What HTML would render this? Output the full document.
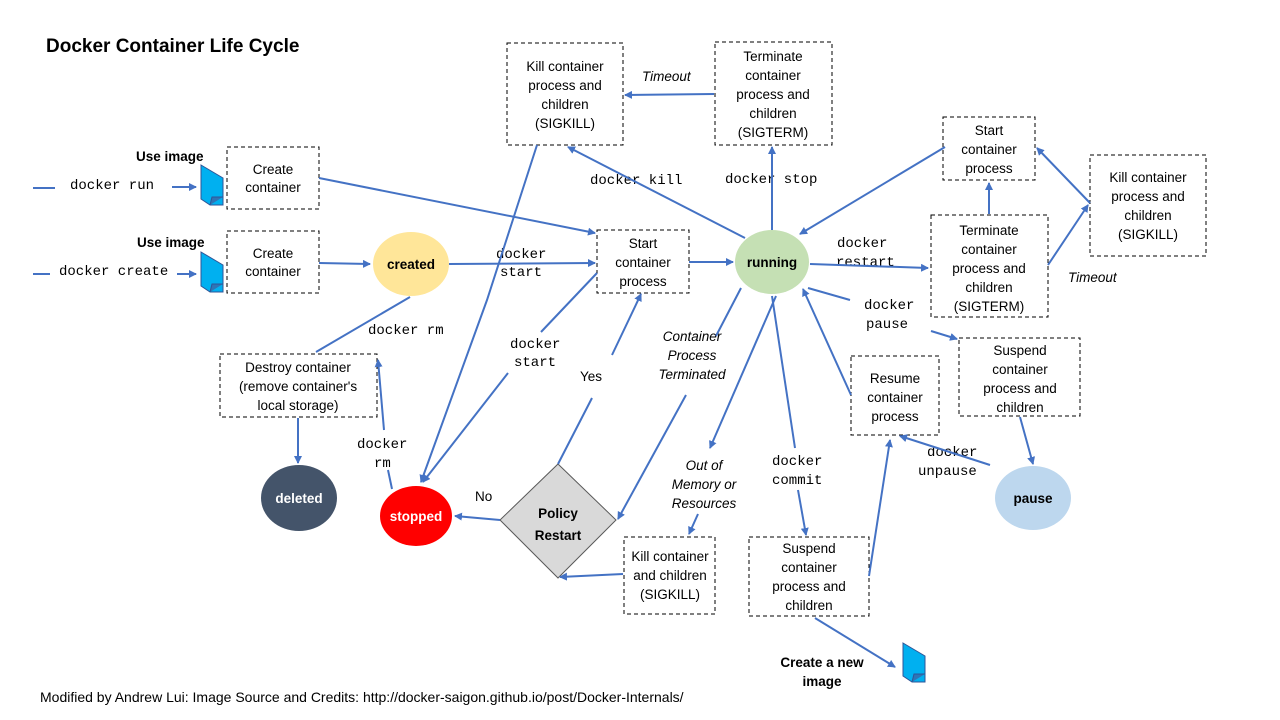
<!DOCTYPE html>
<html><head><meta charset="utf-8"><style>
body{margin:0;background:#fff}
svg{display:block}
text{font-family:"Liberation Sans",sans-serif;font-size:13.5px;fill:#000}
.m{font-family:"Liberation Mono",monospace;font-size:14px}
.i{font-style:italic}
.b{font-weight:bold}
.bx{fill:#fff;stroke:#000;stroke-dasharray:4,3;stroke-width:1}
.ln{stroke:#4472C4;stroke-width:2;fill:none;marker-end:url(#a)}
.nl{stroke:#4472C4;stroke-width:2;fill:none}
.doc{fill:#00B0F0;stroke:#2F5597;stroke-width:1}
</style></head><body>
<svg width="1280" height="720" viewBox="0 0 1280 720">
<defs><marker id="a" markerWidth="8" markerHeight="8" refX="7" refY="4" orient="auto" markerUnits="userSpaceOnUse"><path d="M0,0 L8,4 L0,8 z" fill="#4472C4"/></marker></defs>
<text x="46" y="52" class="b" style="font-size:19px">Docker Container Life Cycle</text>

<rect class="bx" x="227" y="147" width="92" height="62"/>
<text x="273" y="174" text-anchor="middle">Create</text><text x="273" y="192" text-anchor="middle">container</text>
<rect class="bx" x="227" y="231" width="92" height="62"/>
<text x="273" y="258" text-anchor="middle">Create</text><text x="273" y="276" text-anchor="middle">container</text>
<rect class="bx" x="597" y="230" width="92" height="63"/>
<text x="643" y="248" text-anchor="middle">Start</text><text x="643" y="267" text-anchor="middle">container</text><text x="643" y="286" text-anchor="middle">process</text>
<rect class="bx" x="507" y="43" width="116" height="102"/>
<text x="565" y="71" text-anchor="middle">Kill container</text><text x="565" y="90" text-anchor="middle">process and</text><text x="565" y="109" text-anchor="middle">children</text><text x="565" y="128" text-anchor="middle">(SIGKILL)</text>
<rect class="bx" x="715" y="42" width="117" height="103"/>
<text x="773" y="61" text-anchor="middle">Terminate</text><text x="773" y="80" text-anchor="middle">container</text><text x="773" y="99" text-anchor="middle">process and</text><text x="773" y="118" text-anchor="middle">children</text><text x="773" y="137" text-anchor="middle">(SIGTERM)</text>
<rect class="bx" x="943" y="117" width="92" height="63"/>
<text x="989" y="135" text-anchor="middle">Start</text><text x="989" y="154" text-anchor="middle">container</text><text x="989" y="173" text-anchor="middle">process</text>
<rect class="bx" x="1090" y="155" width="116" height="101"/>
<text x="1148" y="182" text-anchor="middle">Kill container</text><text x="1148" y="201" text-anchor="middle">process and</text><text x="1148" y="220" text-anchor="middle">children</text><text x="1148" y="239" text-anchor="middle">(SIGKILL)</text>
<rect class="bx" x="931" y="215" width="117" height="102"/>
<text x="989" y="235" text-anchor="middle">Terminate</text><text x="989" y="254" text-anchor="middle">container</text><text x="989" y="273" text-anchor="middle">process and</text><text x="989" y="292" text-anchor="middle">children</text><text x="989" y="311" text-anchor="middle">(SIGTERM)</text>
<rect class="bx" x="959" y="338" width="121" height="78"/>
<text x="1020" y="355" text-anchor="middle">Suspend</text><text x="1020" y="374" text-anchor="middle">container</text><text x="1020" y="393" text-anchor="middle">process and</text><text x="1020" y="412" text-anchor="middle">children</text>
<rect class="bx" x="851" y="356" width="88" height="79"/>
<text x="895" y="383" text-anchor="middle">Resume</text><text x="895" y="402" text-anchor="middle">container</text><text x="895" y="421" text-anchor="middle">process</text>
<rect class="bx" x="749" y="537" width="120" height="79"/>
<text x="809" y="553" text-anchor="middle">Suspend</text><text x="809" y="572" text-anchor="middle">container</text><text x="809" y="591" text-anchor="middle">process and</text><text x="809" y="610" text-anchor="middle">children</text>
<rect class="bx" x="624" y="537" width="91" height="77"/>
<text x="670" y="561" text-anchor="middle">Kill container</text><text x="670" y="580" text-anchor="middle">and children</text><text x="670" y="599" text-anchor="middle">(SIGKILL)</text>
<rect class="bx" x="220" y="354" width="157" height="63"/>
<text x="298" y="372" text-anchor="middle">Destroy container</text><text x="298" y="391" text-anchor="middle">(remove container's</text><text x="298" y="410" text-anchor="middle">local storage)</text>

<ellipse cx="411" cy="264" rx="38" ry="32" fill="#FFE699"/><text x="411" y="269" text-anchor="middle" class="b">created</text>
<ellipse cx="772" cy="262" rx="37" ry="32" fill="#C5E0B4"/><text x="772" y="267" text-anchor="middle" class="b">running</text>
<ellipse cx="1033" cy="498" rx="38" ry="32" fill="#BDD7EE"/><text x="1033" y="503" text-anchor="middle" class="b">pause</text>
<ellipse cx="416" cy="516" rx="36" ry="30" fill="#FF0000"/><text x="416" y="521" text-anchor="middle" class="b" style="fill:#fff">stopped</text>
<ellipse cx="299" cy="498" rx="38" ry="33" fill="#44546A"/><text x="299" y="503" text-anchor="middle" class="b" style="fill:#fff">deleted</text>
<polygon points="558,464 616,520 558,578 500,520" fill="#D9D9D9" stroke="#595959"/>
<text x="558" y="518" text-anchor="middle" class="b">Policy</text><text x="558" y="540" text-anchor="middle" class="b">Restart</text>

<path class="doc" d="M201,165 L223,178 L223,205 L210,205 L201,199 z"/><path d="M210,205 L212,197 L223,197" fill="#2E75B6" stroke="#2F5597"/>
<path class="doc" d="M201,252 L223,265 L223,292 L210,292 L201,286 z"/><path d="M210,292 L212,284 L223,284" fill="#2E75B6" stroke="#2F5597"/>
<path class="doc" d="M903,643 L925,656 L925,682 L912,682 L903,676 z"/><path d="M912,682 L914,674 L925,674" fill="#2E75B6" stroke="#2F5597"/>

<text x="136" y="161" class="b">Use image</text>
<text x="137" y="247" class="b">Use image</text>
<line x1="33" y1="188" x2="55" y2="188" stroke="#4472C4" stroke-width="2"/>
<text x="70" y="189" class="m">docker run</text>
<line x1="33" y1="274" x2="50" y2="274" stroke="#4472C4" stroke-width="2"/>
<text x="59" y="275" class="m">docker create</text>
<text x="496" y="258" class="m">docker</text><text x="500" y="276" class="m">start</text>
<text x="368" y="334" class="m">docker rm</text>
<text x="510" y="348" class="m">docker</text><text x="514" y="366" class="m">start</text>
<text x="580" y="381">Yes</text>
<text x="475" y="501">No</text>
<text x="357" y="448" class="m">docker</text><text x="374" y="467" class="m">rm</text>
<text x="590" y="184" class="m">docker kill</text>
<text x="725" y="183" class="m">docker stop</text>
<text x="642" y="81" class="i">Timeout</text>
<text x="837" y="247" class="m">docker</text><text x="836" y="266" class="m">restart</text>
<text x="1068" y="282" class="i">Timeout</text>
<text x="864" y="309" class="m">docker</text><text x="866" y="328" class="m">pause</text>
<text x="692" y="341" text-anchor="middle" class="i">Container</text><text x="692" y="360" text-anchor="middle" class="i">Process</text><text x="692" y="379" text-anchor="middle" class="i">Terminated</text>
<text x="704" y="470" text-anchor="middle" class="i">Out of</text><text x="704" y="489" text-anchor="middle" class="i">Memory or</text><text x="704" y="508" text-anchor="middle" class="i">Resources</text>
<text x="772" y="465" class="m">docker</text><text x="772" y="484" class="m">commit</text>
<text x="927" y="456" class="m">docker</text><text x="918" y="475" class="m">unpause</text>
<text x="822" y="667" text-anchor="middle" class="b">Create a new</text><text x="822" y="686" text-anchor="middle" class="b">image</text>
<text x="40" y="702" style="font-size:14px">Modified by Andrew Lui: Image Source and Credits: http://docker-saigon.github.io/post/Docker-Internals/</text>

<path class="ln" d="M172,187 L196,187"/>
<path class="ln" d="M177,274 L196,274"/>
<path class="ln" d="M319,263 L370,264"/>
<path class="ln" d="M319,178 L595,233"/>
<path class="ln" d="M449,264 L595,263"/>
<path class="ln" d="M689,262 L733,262"/>
<path class="ln" d="M772,230 L772,147"/>
<path class="ln" d="M714,94 L625,95"/>
<path class="ln" d="M745,238 L568,147"/>
<path class="ln" d="M537,145 L487,300 L421,482"/>
<path class="ln" d="M945,147 L800,234"/>
<path class="ln" d="M810,264 L928,268"/>
<path class="ln" d="M989,214 L989,183"/>
<path class="ln" d="M1048,265 L1088,205"/>
<path class="ln" d="M1090,203 L1037,148"/>
<path class="nl" d="M850,300 L808,288"/>
<path class="ln" d="M931,331 L957,339"/>
<path class="ln" d="M1020,417 L1033,464"/>
<path class="ln" d="M990,465 L900,436"/>
<path class="ln" d="M851,395 L803,289"/>
<path class="ln" d="M869,576 L890,440"/>
<path class="nl" d="M772,296 L795,448"/>
<path class="ln" d="M798,490 L806,535"/>
<path class="ln" d="M815,618 L895,667"/>
<path class="ln" d="M776,296 L710,448"/>
<path class="ln" d="M698,514 L689,534"/>
<path class="nl" d="M741,288 L716,336"/>
<path class="ln" d="M686,395 L618,519"/>
<path class="ln" d="M623,574 L560,577"/>
<path class="nl" d="M558,464 L592,398"/>
<path class="ln" d="M612,355 L641,294"/>
<path class="ln" d="M500,520 L455,516"/>
<path class="nl" d="M541,332 L597,273"/>
<path class="ln" d="M508,373 L423,482"/>
<path class="nl" d="M392,489 L388,470"/>
<path class="ln" d="M384,430 L378,360"/>
<path class="nl" d="M410,297 L316,352"/>
<path class="ln" d="M298,418 L298,463"/>
</svg>
</body></html>
